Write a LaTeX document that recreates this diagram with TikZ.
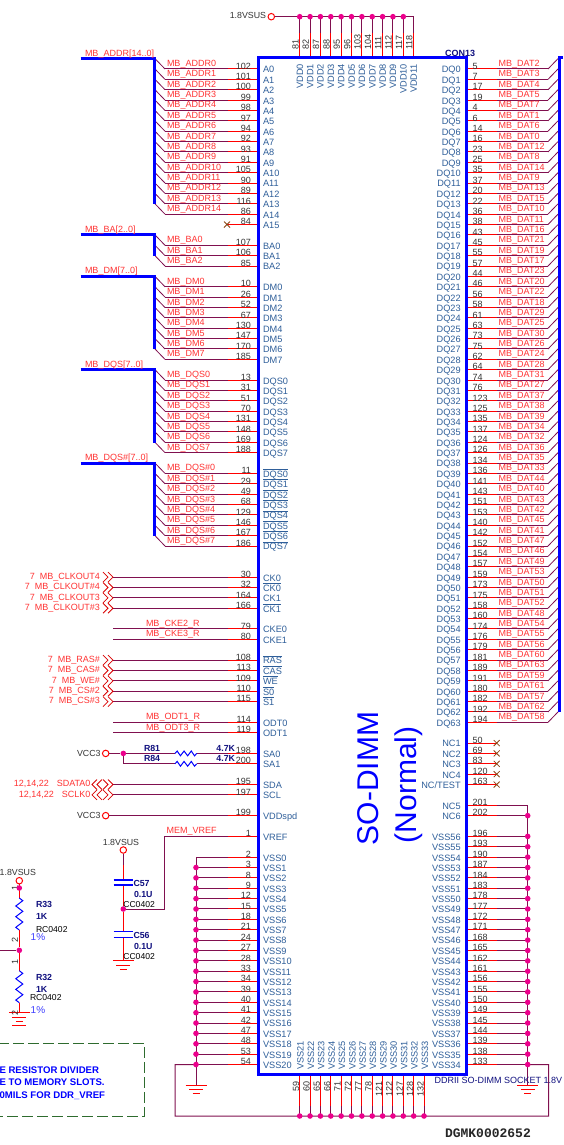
\documentclass[tikz,border=0pt]{standalone}
\usepackage{fontspec}
\setmainfont{Liberation Sans}
\newfontfamily\monob{Liberation Mono}[BoldFont={Liberation Mono Bold}]
\pgfdeclarelayer{fg}
\pgfsetlayers{main,fg}
\definecolor{pincol}{HTML}{2F5F9A}
\definecolor{netcol}{HTML}{80104F}
\definecolor{lblred}{HTML}{FF3333}
\definecolor{numcol}{HTML}{333333}
\definecolor{navy}{HTML}{10107F}
\definecolor{xbrown}{HTML}{8B4513}
\definecolor{boxgreen}{HTML}{2E6B2E}
\newcommand\fs[1]{\fontsize{#1}{#1}\selectfont}
\newcommand\ovl[1]{\leavevmode\setbox0\hbox{#1}\rlap{\raisebox{7.6pt}{\rule{\wd0}{0.7pt}}}\box0}
\tikzset{
  txtbase/.style={inner sep=0pt,outer sep=0pt},
  pintxt/.style={txtbase,font=\fs{9.2},text=pincol},
  numtxt/.style={txtbase,font=\fs{9},text=numcol},
  nettxt/.style={txtbase,font=\fs{9},text=lblred},
  reftxt/.style={txtbase,font=\bfseries\fs{8.8},text=navy},
  footxt/.style={txtbase,font=\fs{8.6},text=black},
  pcttxt/.style={txtbase,font=\fs{10},text=blue!75!white},
  pwrtxt/.style={txtbase,font=\fs{8.8},text=numcol},
  notetxt/.style={txtbase,font=\bfseries\fs{9.6},text=blue},
  pinw/.style={red,line width=1pt},
  netw/.style={netcol,line width=1pt},
  busw/.style={blue,line width=3pt,line cap=butt,line join=miter},
  partw/.style={blue,line width=1pt,line join=miter},
  xmark/.style={xbrown,line width=.8pt},
  chev/.style={red!85!black,line width=.8pt},
  dotn/.style={circle,fill=magenta,draw=none,minimum size=5.6pt,inner sep=0pt},
  pwrn/.style={circle,draw=red,fill=white,line width=1pt,minimum size=6.5pt,inner sep=0pt},
}
\newcommand\dotat[2]{\begin{pgfonlayer}{fg}\node[dotn] (#1) at (#2) {};\end{pgfonlayer}}
% row -> y
\newcommand\setry[1]{\pgfmathsetmacro\ry{69+(#1)*10.37}}
\newcommand\pinleft[3]{\setry{#1}%
  \coordinate (pl#2) at (258,\ry);
  \coordinate (ql#2) at (228,\ry);
  \draw[pinw] (pl#2) -- (ql#2);
  \node[numtxt,anchor=base east] (nl#2) at (251,\ry+.2) {#2};
  \node[pintxt,anchor=base west] (tl#2) at (263,\ry+3.9) {#3};}
\newcommand\pinright[3]{\setry{#1}%
  \coordinate (pr#2) at (466,\ry);
  \coordinate (qr#2) at (497,\ry);
  \draw[pinw] (pr#2) -- (qr#2);
  \node[numtxt,anchor=base west] (nr#2) at (472.7,\ry+.2) {#2};
  \node[pintxt,anchor=base east] (tr#2) at (460.7,\ry+3.9) {#3};}
\newcommand\netbusL[3]{\setry{#1}%
  \coordinate (el#2) at (165,\ry);
  \coordinate (bl#2) at (155,\ry-10.37);
  \draw[netw] (ql#2) -- (el#2);
  \draw[netw,line width=.8pt] (el#2) -- (bl#2);
  \node[nettxt,anchor=base west] (wl#2) at (167,\ry-2.5) {#3};}
\newcommand\netbusR[3]{\setry{#1}%
  \coordinate (er#2) at (548,\ry);
  \coordinate (br#2) at (558,\ry-10.37);
  \draw[netw] (qr#2) -- (er#2);
  \draw[netw,line width=.8pt] (er#2) -- (br#2);
  \node[nettxt,anchor=base west] (wr#2) at (498.7,\ry-2.5) {#3};}
\newcommand\chevR[1]{\draw[chev] (103,#1-5) -- (108,#1) -- (103,#1+5) (108,#1-5) -- (113,#1) -- (108,#1+5);}
\newcommand\chevL[1]{\draw[chev] (97,#1-5) -- (92,#1) -- (97,#1+5) (102,#1-5) -- (97,#1) -- (102,#1+5);}
\newcommand\ncx[2]{\draw[xmark] (#1-3,#2-3) -- (#1+3,#2+3) (#1-3,#2+3) -- (#1+3,#2-3);}
\newcommand\gndsym[2]{\draw[red,line width=1pt] (#1-10.5,#2) -- (#1+10.5,#2) (#1-7,#2+4.3) -- (#1+7,#2+4.3) (#1-3.5,#2+8.8) -- (#1+3.5,#2+8.8);}
\newcommand\zigV[3]{\pgfmathsetmacro\zs{(#3-#2)/6}%
  \draw[partw] (#1,#2) -- (#1+3.5,#2+\zs*.5) -- (#1-3.5,#2+\zs*1.5) -- (#1+3.5,#2+\zs*2.5) -- (#1-3.5,#2+\zs*3.5) -- (#1+3.5,#2+\zs*4.5) -- (#1-3.5,#2+\zs*5.5) -- (#1,#3);}
\newcommand\zigH[3]{\pgfmathsetmacro\zs{(#2-#1)/6}%
  \draw[partw] (#1,#3) -- (#1+\zs*.6,#3-2.4) -- (#1+\zs*1.5,#3+2.4) -- (#1+\zs*2.5,#3-2.4) -- (#1+\zs*3.5,#3+2.4) -- (#1+\zs*4.5,#3-2.4) -- (#1+\zs*5.4,#3+2.4) -- (#2,#3);}
\begin{document}
\begin{tikzpicture}[x=1pt,y=-1pt]
\useasboundingbox (0,0) rectangle (563,1145);
\fill[white] (0,0) rectangle (563,1145);

% ---------- address-type groups on the left, with buses
\foreach \pn/\lab [count=\i from 0] in {102/A0,101/A1,100/A2,99/A3,98/A4,97/A5,94/A6,92/A7,93/A8,91/A9,105/A10,90/A11,89/A12,116/A13,86/A14}
  {\pinleft{\i}{\pn}{\lab}\netbusL{\i}{\pn}{MB\_ADDR\i}}
\pinleft{15}{84}{A15}
\setry{15}\ncx{227}{\ry}
\foreach \pn/\lab [count=\i from 0] in {107/BA0,106/BA1,85/BA2}
  {\pinleft{\i+17}{\pn}{\lab}\netbusL{\i+17}{\pn}{MB\_BA\i}}
\foreach \pn/\lab [count=\i from 0] in {10/DM0,26/DM1,52/DM2,67/DM3,130/DM4,147/DM5,170/DM6,185/DM7}
  {\pinleft{\i+21}{\pn}{\lab}\netbusL{\i+21}{\pn}{MB\_DM\i}}
\foreach \pn/\lab [count=\i from 0] in {13/DQS0,31/DQS1,51/DQS2,70/DQS3,131/DQS4,148/DQS5,169/DQS6,188/DQS7}
  {\pinleft{\i+30}{\pn}{\lab}\netbusL{\i+30}{\pn}{MB\_DQS\i}}
\foreach \pn/\lab [count=\i from 0] in {11/DQS0,29/DQS1,49/DQS2,68/DQS3,129/DQS4,146/DQS5,167/DQS6,186/DQS7}
  {\pinleft{\i+39}{\pn}{\ovl{\lab}}\netbusL{\i+39}{\pn}{MB\_DQS\#\i}}

% buses
\foreach \nm/\top/\bot/\txt in {addr/58.7/204.2/{MB\_ADDR[14..0]},ba/234.9/255.7/{MB\_BA[2..0]},dm/276.4/349/{MB\_DM[7..0]},dqs/369.7/442.6/{MB\_DQS[7..0]},dqsn/463/536/{MB\_DQS\#[7..0]}}{
  \coordinate (bus\nm a) at (80.7,\top);
  \coordinate (bus\nm b) at (154.5,\top);
  \coordinate (bus\nm c) at (154.5,\bot);
  \draw[busw] (bus\nm a) -- (bus\nm b) -- (bus\nm c);
  \node[nettxt,anchor=base west] (buslab\nm) at (85,\top-2.6) {\txt};
}

% ---------- clocks and control
\foreach \pn/\lab/\net/\pre [count=\i from 49] in {30/CK0/MB\_CLKOUT4/7,32/\ovl{CK0}/MB\_CLKOUT\#4/7,164/CK1/MB\_CLKOUT3/7,166/\ovl{CK1}/MB\_CLKOUT\#3/7}{
  \pinleft{\i}{\pn}{\lab}
  \coordinate (sl\pn) at (113,\ry);
  \draw[netw] (ql\pn) -- (sl\pn);
  \chevR{\ry}
  \node[nettxt,anchor=base east] (wl\pn) at (100,\ry+2.4) {\pre\hspace{5pt}\net};
}
\foreach \pn/\lab/\net [count=\i from 54] in {79/CKE0/MB\_CKE2\_R,80/CKE1/MB\_CKE3\_R}{
  \pinleft{\i}{\pn}{\lab}
  \coordinate (sl\pn) at (113,\ry);
  \draw[netw] (ql\pn) -- (sl\pn);
  \node[nettxt,anchor=base west] (wl\pn) at (146,\ry-2.5) {\net};
}
\foreach \pn/\lab/\net [count=\i from 57] in {108/\ovl{RAS}/MB\_RAS\#,113/\ovl{CAS}/MB\_CAS\#,109/\ovl{WE}/MB\_WE\#,110/\ovl{S0}/MB\_CS\#2,115/\ovl{S1}/MB\_CS\#3}{
  \pinleft{\i}{\pn}{\lab}
  \coordinate (sl\pn) at (113,\ry);
  \draw[netw] (ql\pn) -- (sl\pn);
  \chevR{\ry}
  \node[nettxt,anchor=base east] (wl\pn) at (100,\ry+2.4) {7\hspace{5pt}\net};
}
\foreach \pn/\lab/\net [count=\i from 63] in {114/ODT0/MB\_ODT1\_R,119/ODT1/MB\_ODT3\_R}{
  \pinleft{\i}{\pn}{\lab}
  \coordinate (sl\pn) at (113,\ry);
  \draw[netw] (ql\pn) -- (sl\pn);
  \node[nettxt,anchor=base west] (wl\pn) at (146,\ry-2.5) {\net};
}
% SA0 / SA1
\pinleft{66}{198}{SA0}
\coordinate (r81a) at (175,\ry); \coordinate (r81b) at (196.7,\ry);
\node[pwrn] (vcca) at (105.7,\ry) {};
\dotat{dsa}{123.3,\ry}
\draw[netw] (vcca) -- (dsa) -- (r81a);
\draw[netw] (r81b) -- (ql198);
\zigH{175}{196.7}{\ry}
\node[pwrtxt,anchor=base east] (vccatx) at (100.5,\ry+3.2) {VCC3};
\node[reftxt,anchor=base west] (r81t) at (144,\ry-2.2) {R81};
\node[reftxt,anchor=base east] (r81v) at (235,\ry-2.2) {4.7K};
\pinleft{67}{200}{SA1}
\coordinate (r84a) at (175,\ry); \coordinate (r84b) at (196.7,\ry); \coordinate (sa1c) at (123.3,\ry);
\draw[netw] (dsa) -- (sa1c) -- (r84a);
\draw[netw] (r84b) -- (ql200);
\zigH{175}{196.7}{\ry}
\node[reftxt,anchor=base west] (r84t) at (144,\ry-2.2) {R84};
\node[reftxt,anchor=base east] (r84v) at (235,\ry-2.2) {4.7K};
% SDA / SCL
\foreach \pn/\lab/\net [count=\i from 69] in {195/SDA/SDATA0,197/SCL/SCLK0}{
  \pinleft{\i}{\pn}{\lab}
  \coordinate (sl\pn) at (113,\ry);
  \draw[netw] (ql\pn) -- (sl\pn);
  \chevR{\ry}\chevL{\ry}
  \node[nettxt,anchor=base east] (wl\pn) at (90.5,\ry+2.4) {12,14,22\hspace{8pt}\net};
}
% VDDspd
\pinleft{72}{199}{VDDspd}
\node[pwrn] (vccb) at (105.7,\ry) {};
\draw[netw] (vccb) -- (ql199);
\node[pwrtxt,anchor=base east] (vccbtx) at (100.5,\ry+3.2) {VCC3};
% VREF
\pinleft{74}{1}{VREF}
\coordinate (vr1) at (164.7,\ry); \coordinate (vr2) at (164.7,909);
\dotat{dvr}{123.3,909}
\draw[netw] (ql1) -- (vr1) -- (vr2) -- (dvr);
\node[nettxt,anchor=base west] (vrl) at (166.7,\ry-2.5) {MEM\_VREF};

% ---------- VSS left
\foreach \pn [count=\i from 0] in {2,3,8,9,12,15,18,21,24,27,28,33,34,39,40,41,42,47,48,53,54}{
  \pinleft{\i+76}{\pn}{VSS\i}
  \coordinate (el\pn) at (196,\ry);
  \draw[netw] (ql\pn) -- (el\pn);
  \ifnum\i>0 \dotat{dl\pn}{el\pn}\fi
}
\coordinate (gl) at (196,1085);
\draw[netw] (el2) -- (gl);
\gndsym{196}{1085}
\coordinate (loopa) at (175,1064.5);
\coordinate (loopb) at (175,1116);
\coordinate (loopc) at (548.7,1116);
\coordinate (loopd) at (548.7,1064.5);

% ---------- top VDD pins
\node[pwrn] (vddp) at (271.3,16.7) {};
\node[pwrtxt,anchor=base east] (vddl) at (266,18.9) {1.8VSUS};
\coordinate (vddend) at (413.7,16.7);
\draw[netw] (vddp) -- (vddend);
\foreach \pn [count=\i from 0] in {81,82,87,88,95,96,103,104,111,112,117,118}{
  \pgfmathsetmacro\px{299.7+\i*10.36}
  \coordinate (vt\pn) at (\px,16.7); \coordinate (vm\pn) at (\px,33); \coordinate (vb\pn) at (\px,58);
  \draw[netw] (vt\pn) -- (vm\pn);
  \draw[pinw] (vm\pn) -- (vb\pn);
  \ifnum\i<11 \dotat{vd\pn}{vt\pn}\fi
  \node[numtxt,anchor=base west,rotate=90] (vn\pn) at (\px-1.2,50) {\pn};
  \node[pintxt,anchor=base east,rotate=90] (vl\pn) at (\px+3.3,64) {VDD\i};
}

% ---------- bottom VSS pins
\foreach \pn [count=\i from 21] in {59,60,65,66,71,72,77,78,121,122,127,128,132}{
  \pgfmathsetmacro\px{299.7+(\i-21)*10.36}
  \coordinate (st\pn) at (\px,1074); \coordinate (sm\pn) at (\px,1106); \coordinate (sb\pn) at (\px,1116);
  \draw[pinw] (st\pn) -- (sm\pn);
  \draw[netw] (sm\pn) -- (sb\pn);
  \dotat{sd\pn}{sb\pn}
  \node[numtxt,anchor=base east,rotate=90] (sn\pn) at (\px-.5,1081.7) {\pn};
  \node[pintxt,anchor=base east,rotate=90] (sl\pn) at (\px+4,1041) {VSS\i};
}

% ---------- right side DQ
\foreach \pn/\dt [count=\i from 0] in {5/2,7/3,17/4,19/5,4/7,6/1,14/6,16/0,23/12,25/8,35/14,37/9,20/13,22/15,36/10,38/11,43/16,45/21,55/19,57/17,44/23,46/20,56/22,58/18,61/29,63/25,73/30,75/26,62/24,64/28,74/31,76/27,123/37,125/38,135/39,137/34,124/32,126/36,134/35,136/33,141/44,143/40,151/43,153/42,140/45,142/41,152/47,154/46,157/49,159/53,173/50,175/51,158/52,160/48,174/54,176/55,179/56,181/60,189/63,191/59,180/61,182/57,192/62,194/58}{
  \pgfmathtruncatemacro\cnt{\i}
  \pinright{\i}{\pn}{DQ\cnt}
  \netbusR{\i}{\pn}{MB\_DAT\dt}
}
\coordinate (rbusa) at (563,58);
\coordinate (rbusb) at (559,58);
\coordinate (rbusc) at (559,712);
\draw[busw] (rbusa) -- (rbusb) -- (rbusc);

% ---------- NC
\foreach \pn/\lab [count=\i from 65] in {50/NC1,69/NC2,83/NC3,120/NC4,163/NC\slash TEST}{
  \pinright{\i}{\pn}{\lab}
  \ncx{496.7}{\ry}
}
% ---------- NC5/6 and VSS right
\pinright{71}{201}{NC5}
\coordinate (er201) at (527.7,\ry);
\draw[netw] (qr201) -- (er201);
\pinright{72}{202}{NC6}
\coordinate (er202) at (527.7,\ry);
\draw[netw] (qr202) -- (er202);
\dotat{dr202}{er202}
\foreach \pn [count=\i from 0] in {196,193,190,187,184,183,178,177,172,171,168,165,162,161,156,155,150,149,145,144,139,138,133}{
  \pgfmathtruncatemacro\vn{56-\i}
  \pinright{\i+74}{\pn}{VSS\vn}
  \coordinate (er\pn) at (527.7,\ry);
  \draw[netw] (qr\pn) -- (er\pn);
  \dotat{dr\pn}{er\pn}
}
\coordinate (gr) at (527.7,1085);
\draw[netw] (er201) -- (gr);
\gndsym{527.7}{1085}

% big loop joining VSS20, bottom pins, VSS34
\draw[netw] (el54) -- (loopa) -- (loopb) -- (loopc) -- (loopd) -- (er133);

% ---------- the socket box
\node[draw=blue,line width=3pt,fill=none,minimum width=208pt,minimum height=1016pt,inner sep=0pt,outer sep=0pt,anchor=north west] (socket) at (258,58) {};
\node[txtbase,font=\bfseries\fs{9},text=navy,anchor=base west] (conref) at (445,57) {CON13};
\node[txtbase,font=\fs{9},text=navy,anchor=base west] (socklab) at (434.7,1083) {DDRII SO-DIMM SOCKET 1.8V};
\node[txtbase,font=\fs{30},text=blue,anchor=base west,rotate=90] (bigA) at (378.7,845) {SO-DIMM};
\node[txtbase,font=\fs{30},text=blue,anchor=base west,rotate=90] (bigB) at (416.5,843) {(Normal)};
\node[txtbase,font=\monob\bfseries\fs{13},text=black!85,anchor=base west] (dgmk) at (445,1137.5) {DGMK0002652};

% ---------- C57 / C56
\node[pwrn] (pc) at (123.3,850) {};
\node[pwrtxt,anchor=base] (pcl) at (121,845) {1.8VSUS};
\coordinate (c57t) at (123.3,880); \coordinate (c57b) at (123.3,885);
\coordinate (c56t) at (123.3,931.7); \coordinate (c56b) at (123.3,937.3);
\coordinate (cg) at (123.3,960.7); \coordinate (cm) at (123.3,865);
\draw[netw] (pc) -- (cm);
\draw[pinw] (cm) -- (c57t) (c57b) -- (dvr) -- (c56t) (c56b) -- (cg);
\draw[partw,line width=1.3pt] (113.7,880) -- (133,880) (113.7,885) -- (133,885) (113.7,931.7) -- (133,931.7) (113.7,937.3) -- (133,937.3);
\gndsym{123.3}{960.7}
\node[reftxt,anchor=base west] (c57r) at (133.5,886) {C57};
\node[reftxt,anchor=base west] (c57v) at (134,897.2) {0.1U};
\node[footxt,anchor=base west] (c57f) at (123.3,907) {CC0402};
\node[reftxt,anchor=base west] (c56r) at (133.5,938.2) {C56};
\node[reftxt,anchor=base west] (c56v) at (134,949) {0.1U};
\node[footxt,anchor=base west] (c56f) at (123.3,959) {CC0402};

% ---------- R33 / R32
\node[pwrn] (pr) at (19.3,880.7) {};
\node[pwrtxt,anchor=base west] (prl) at (-.3,875.9) {1.8VSUS};
\dotat{dr33}{19.3,888}
\dotat{dmid}{19.3,950.3}
\coordinate (r33a) at (19.3,898); \coordinate (r33b) at (19.3,930);
\coordinate (r32a) at (19.3,970.7); \coordinate (r32b) at (19.3,1002.7);
\coordinate (rg) at (19.3,1012.7); \coordinate (rleft) at (0,950.3);
\draw[pinw] (pr) -- (r33a) (r33b) -- (dmid) -- (r32a) (r32b) -- (rg);
\draw[netw] (rleft) -- (dmid);
\zigV{19.3}{898}{930}
\zigV{19.3}{970.7}{1002.7}
\gndsym{19.3}{1012.7}
\draw[red,line width=.6pt] (19.3-7,1012.7+13) -- (19.3+7,1012.7+13);
\node[numtxt,anchor=center,rotate=90] (r1a) at (15,888.3) {1};
\node[numtxt,anchor=center,rotate=90] (r2a) at (15,940) {2};
\node[numtxt,anchor=center,rotate=90] (r1b) at (15,961.7) {1};
\node[numtxt,anchor=center,rotate=90] (r2b) at (15,1012.7) {2};
\node[reftxt,anchor=base west] (r33r) at (36,907) {R33};
\node[reftxt,anchor=base west] (r33v) at (36,919) {1K};
\node[footxt,anchor=base west] (r33f) at (36,932) {RC0402};
\node[pcttxt,anchor=base west] (r33p) at (30.7,940.4) {1\%};
\node[reftxt,anchor=base west] (r32r) at (36,980) {R32};
\node[reftxt,anchor=base west] (r32v) at (36,992) {1K};
\node[footxt,anchor=base west] (r32f) at (30,1000) {RC0402};
\node[pcttxt,anchor=base west] (r32p) at (30.7,1013) {1\%};

% ---------- note box
\coordinate (nb1) at (-2,1043.7); \coordinate (nb2) at (144.3,1043.7);
\coordinate (nb3) at (144.3,1116); \coordinate (nb4) at (-2,1116);
\draw[boxgreen,line width=1pt,dash pattern=on 11pt off 4pt] (nb1) -- (nb2) -- (nb3) -- (nb4);
\node[notetxt,anchor=base west] (n1) at (-.5,1073.6) {E RESISTOR DIVIDER};
\node[notetxt,anchor=base west] (n2) at (-.5,1085.6) {E TO MEMORY SLOTS.};
\node[notetxt,anchor=base west] (n3) at (-.5,1098.6) {0MILS FOR DDR\_VREF};
\end{tikzpicture}
\end{document}
